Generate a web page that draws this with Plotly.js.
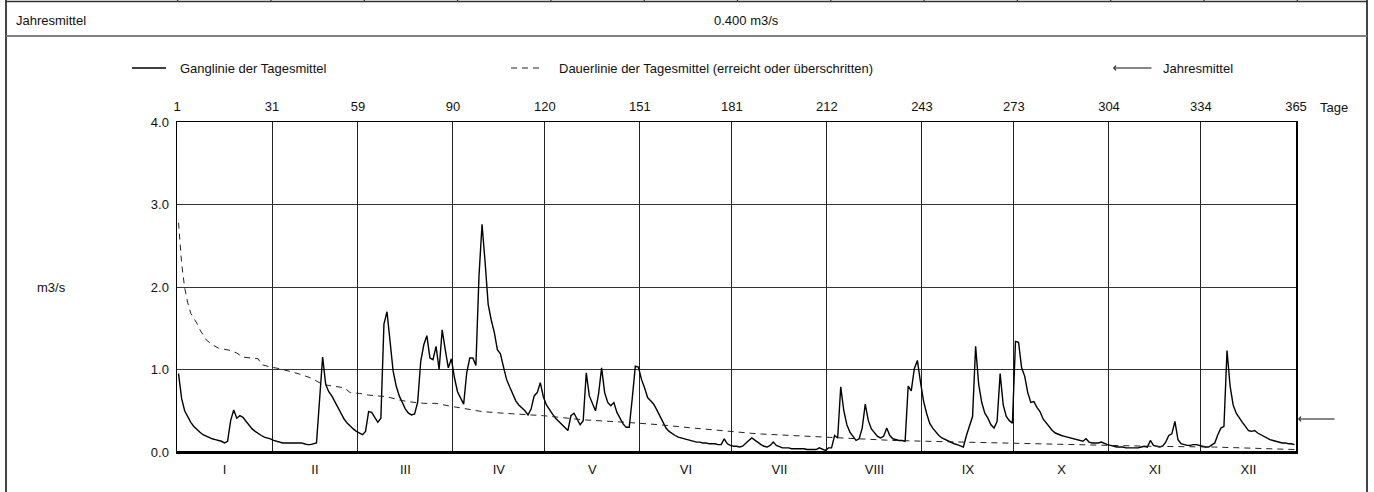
<!DOCTYPE html>
<html>
<head>
<meta charset="utf-8">
<script src="https://cdn.plot.ly/plotly-3.0.1.min.js"></script>
<style>html,body{margin:0;padding:0;background:#fff}#chart{width:1374px;height:492px}</style>
</head>
<body>
<div id="chart"></div>
<script>
// ---- Data (daily mean discharge, m3/s) ----
const flowJan = [0.95,0.65,0.50,0.42,0.36,0.31,0.27,0.24,0.21,0.19,0.17,0.16,0.15,0.14,0.13,0.11,0.13,0.38,0.51,0.41,0.44,0.42,0.37,0.32,0.28,0.25,0.22,0.20,0.18,0.17,0.16];
const flowFeb = [0.14,0.13,0.12,0.11,0.11,0.11,0.11,0.11,0.11,0.11,0.10,0.09,0.09,0.10,0.11,0.63,1.15,0.82,0.73,0.68,0.61,0.54,0.47,0.40,0.35,0.31,0.28,0.25];
const flowMar = [0.23,0.21,0.25,0.49,0.48,0.42,0.36,0.41,1.55,1.70,1.32,0.98,0.80,0.68,0.60,0.52,0.47,0.45,0.46,0.60,1.10,1.30,1.41,1.14,1.12,1.28,1.00,1.48,1.24,1.02,1.13];
const flowApr = [0.90,0.73,0.65,0.58,0.96,1.14,1.14,1.05,2.13,2.76,2.30,1.79,1.60,1.45,1.24,1.19,1.03,0.88,0.79,0.70,0.62,0.57,0.54,0.50,0.45,0.52,0.68,0.72,0.84,0.67];
const flowMay = [0.57,0.51,0.46,0.41,0.37,0.33,0.29,0.26,0.44,0.47,0.40,0.33,0.38,0.96,0.68,0.58,0.50,0.70,1.02,0.72,0.60,0.56,0.60,0.48,0.40,0.34,0.30,0.30,0.65,1.04,1.03];
const flowJun = [0.88,0.78,0.66,0.62,0.58,0.51,0.43,0.35,0.29,0.25,0.22,0.20,0.18,0.17,0.16,0.15,0.14,0.13,0.12,0.12,0.11,0.11,0.10,0.10,0.10,0.09,0.09,0.16,0.10,0.08];
const flowJul = [0.07,0.07,0.06,0.07,0.11,0.14,0.17,0.14,0.11,0.09,0.07,0.06,0.08,0.12,0.08,0.06,0.05,0.05,0.05,0.04,0.04,0.04,0.04,0.04,0.03,0.03,0.03,0.03,0.05,0.03,0.02];
const flowAug = [0.05,0.05,0.20,0.17,0.79,0.50,0.33,0.24,0.19,0.14,0.16,0.29,0.58,0.38,0.28,0.24,0.19,0.17,0.19,0.29,0.20,0.16,0.15,0.14,0.14,0.13,0.80,0.74,1.01,1.11,0.85];
const flowSep = [0.62,0.47,0.35,0.29,0.24,0.20,0.17,0.15,0.13,0.12,0.10,0.09,0.07,0.06,0.20,0.33,0.43,1.28,0.82,0.60,0.47,0.41,0.33,0.29,0.37,0.95,0.57,0.43,0.38,0.35];
const flowOct = [1.34,1.33,1.02,0.92,0.72,0.60,0.61,0.54,0.49,0.40,0.35,0.30,0.26,0.23,0.21,0.20,0.19,0.18,0.17,0.16,0.15,0.14,0.13,0.16,0.12,0.11,0.11,0.11,0.12,0.10,0.09];
const flowNov = [0.08,0.07,0.06,0.06,0.06,0.05,0.05,0.05,0.05,0.05,0.06,0.07,0.06,0.14,0.08,0.07,0.06,0.07,0.12,0.20,0.22,0.37,0.15,0.10,0.09,0.08,0.08,0.09,0.09,0.08];
const flowDec = [0.07,0.06,0.06,0.08,0.11,0.21,0.29,0.31,1.23,0.80,0.57,0.47,0.41,0.36,0.31,0.26,0.25,0.26,0.23,0.21,0.19,0.17,0.15,0.14,0.13,0.12,0.11,0.11,0.10,0.10,0.09];

// Duration curve (reached or exceeded)
const durDays = [1,2,3,4,5,7,8,10,12,14,18,20,22,24,27,28,31,34,37,40,44,46,48,51,55,57,60,63,69,73,76,81,85,89,94,100,107,113,120,128,133,147,158,169,181,190,201,212,223,234,245,256,273,296,317,339,365];
const durFlow = [2.78,2.29,1.99,1.81,1.68,1.56,1.48,1.36,1.30,1.26,1.23,1.20,1.15,1.14,1.13,1.06,1.03,1.01,0.98,0.95,0.90,0.86,0.82,0.80,0.78,0.72,0.71,0.69,0.67,0.63,0.61,0.59,0.59,0.56,0.53,0.49,0.47,0.46,0.44,0.41,0.39,0.36,0.33,0.29,0.25,0.22,0.20,0.18,0.16,0.14,0.13,0.12,0.11,0.09,0.07,0.06,0.03];

const monthEnds = [0,31,59,90,120,151,181,212,243,273,304,334,365];
const topTickText = ['1','31','59','90','120','151','181','212','243','273','304','334','365'];
const monthLabels = ['I','II','III','IV','V','VI','VII','VIII','IX','X','XI','XII'];
const yTicks = [0,1,2,3,4];
const annualMean = 0.400;
const unit = 'm3/s';

// ---- Build series ----
const dailyFlow = [].concat(flowJan,flowFeb,flowMar,flowApr,flowMay,flowJun,flowJul,flowAug,flowSep,flowOct,flowNov,flowDec);
const dayX = dailyFlow.map((v,i)=>i+0.5);
const durX = durDays.map(d=>d-0.5);
const monthMid = monthLabels.map((m,i)=>(monthEnds[i]+monthEnds[i+1])/2);

// ---- Pixel helpers for the frame drawing ----
const L=177, R=1296, T=122, B=452;
const px = x => (x-L)/(R-L);
const py = y => (B-y)/(B-T);
const FONT = 'Liberation Sans, Arial, Helvetica, sans-serif';
const TXT = '#111';

function seg(x0,y0,x1,y1,color,w,dash){
  return {type:'line',xref:'paper',yref:'paper',x0:px(x0),y0:py(y0),x1:px(x1),y1:py(y1),
          line:{color:color,width:w,dash:dash||'solid'},layer:'above'};
}
function label(x,y,text,anchor,size){
  return {xref:'paper',yref:'paper',x:px(x),y:py(y),text:text,showarrow:false,
          xanchor:anchor||'left',yanchor:'middle',font:{family:FONT,size:size||13,color:TXT}};
}

const shapes = [
  seg(6,0,6,492,'#444',2),
  seg(1367,0,1367,492,'#444',2),
  seg(6,1.5,1367,1.5,'#333',1.5),
  seg(6,36,1367,36,'#808080',2),
  // legend line samples
  seg(132,68,166,68,'#000',1.3),
  seg(511,68,543,68,'#222',1,'6px,5px'),
  // heavier bottom axis line
  seg(L,B,R,B,'#000',2)
];
for(let k=0;k<=12;k++){
  const x = 177.7 + k*(1297.3-177.7)/12;
  shapes.push(seg(x,0,x,2,'#333',1.2));
}

const annotations = [
  label(14,20,'Jahresmittel','left'),
  label(746,20,annualMean.toFixed(3)+' '+unit,'center'),
  label(178,68,'Ganglinie der Tagesmittel','left'),
  label(557,68,'Dauerlinie der Tagesmittel (erreicht oder überschritten)','left'),
  label(1161,68,'Jahresmittel','left'),
  label(1318,107.5,'Tage','left'),
  label(51.5,287,unit,'center'),
  {xref:'paper',yref:'paper',x:px(1113),y:py(68),ax:40,ay:0,text:'',showarrow:true,
   arrowhead:4,arrowsize:0.9,arrowwidth:1,arrowcolor:'#111'},
  {xref:'paper',yref:'y',x:px(1298),y:annualMean,ax:38,ay:0,text:'',showarrow:true,
   arrowhead:4,arrowsize:0.9,arrowwidth:1,arrowcolor:'#111'}
];

const traces = [
  {x:dayX,y:dailyFlow,type:'scatter',mode:'lines',line:{color:'#000',width:1.4},hoverinfo:'skip'},
  {x:durX,y:durFlow,type:'scatter',mode:'lines',line:{color:'#222',width:1,dash:'6px,5px'},hoverinfo:'skip'},
  {x:[0,365],y:[null,null],xaxis:'x2',type:'scatter',mode:'lines',hoverinfo:'skip'}
];

const layout = {
  width:1374,height:492,autosize:false,
  margin:{l:L,r:1374-R,t:T,b:492-B,pad:0},
  paper_bgcolor:'#fff',plot_bgcolor:'#fff',
  showlegend:false,
  font:{family:FONT,size:13,color:TXT},
  xaxis:{range:[0,365],side:'top',tickmode:'array',tickvals:monthEnds,ticktext:topTickText,
         showgrid:true,gridcolor:'#222',gridwidth:1,zeroline:false,showline:true,mirror:true,
         linecolor:'#000',linewidth:1.5,ticks:'',ticklabelstandoff:4,tickfont:{size:13},fixedrange:true},
  xaxis2:{range:[0,365],overlaying:'x',side:'bottom',anchor:'y',tickmode:'array',tickvals:monthMid,
          ticktext:monthLabels,showgrid:false,zeroline:false,showline:false,ticks:'',ticklabelstandoff:8,
          tickfont:{size:13},fixedrange:true},
  yaxis:{range:[0,4],tickmode:'array',tickvals:yTicks,ticktext:yTicks.map(v=>v.toFixed(1)),
         showgrid:true,gridcolor:'#333',gridwidth:1,zeroline:false,showline:true,mirror:true,
         linecolor:'#000',linewidth:1.5,ticks:'',ticklabelstandoff:4,tickfont:{size:13},fixedrange:true},
  shapes:shapes,
  annotations:annotations
};

Plotly.newPlot('chart',traces,layout,{staticPlot:true,displayModeBar:false});
</script>
</body>
</html>
